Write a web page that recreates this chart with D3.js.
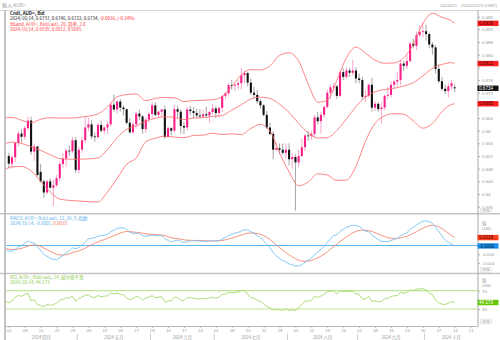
<!DOCTYPE html>
<html><head><meta charset="utf-8">
<script src="https://cdn.jsdelivr.net/npm/d3@7"></script>
<style>
html,body{margin:0;padding:0;background:#fff;}
svg{display:block;}
</style>
</head><body>
<svg id="chart" width="500" height="340"></svg>
<script>
// ---- AUD= daily candles, 2024-04-01 .. 2024-10-14 ----
const dates = [
"04-01","04-02","04-03","04-04","04-05","04-08","04-09","04-10","04-11","04-12",
"04-15","04-16","04-17","04-18","04-19","04-22","04-23","04-24","04-25","04-26",
"04-29","04-30","05-01","05-02","05-03","05-06","05-07","05-08","05-09","05-10",
"05-13","05-14","05-15","05-16","05-17","05-20","05-21","05-22","05-23","05-24",
"05-27","05-28","05-29","05-30","05-31","06-03","06-04","06-05","06-06","06-07",
"06-10","06-11","06-12","06-13","06-14","06-17","06-18","06-19","06-20","06-21",
"06-24","06-25","06-26","06-27","06-28","07-01","07-02","07-03","07-04","07-05",
"07-08","07-09","07-10","07-11","07-12","07-15","07-16","07-17","07-18","07-19",
"07-22","07-23","07-24","07-25","07-26","07-29","07-30","07-31","08-01","08-02",
"08-05","08-06","08-07","08-08","08-09","08-12","08-13","08-14","08-15","08-16",
"08-19","08-20","08-21","08-22","08-23","08-26","08-27","08-28","08-29","08-30",
"09-02","09-03","09-04","09-05","09-06","09-09","09-10","09-11","09-12","09-13",
"09-16","09-17","09-18","09-19","09-20","09-23","09-24","09-25","09-26","09-27",
"09-30","10-01","10-02","10-03","10-04","10-07","10-08","10-09","10-10","10-11",
"10-14"];
// weekdays shown on the time axis before the first candle and after the last one
const leadDays = ["03-29"];
const tailDays = ["10-15","10-16","10-17","10-18","10-21","10-22","10-23"];

const open = [
.6520,.6496,.6516,.6561,.6591,.6581,.6608,.6632,.6534,.6550,
.6470,.6440,.6405,.6440,.6420,.6428,.6450,.6495,.6512,.6537,
.6535,.6570,.6476,.6540,.6570,.6610,.6620,.6582,.6580,.6618,
.6600,.6610,.6620,.6682,.6667,.6692,.6673,.6668,.6625,.6595,
.6620,.6654,.6645,.6605,.6635,.6653,.6680,.6650,.6660,.6667,
.6580,.6608,.6600,.6668,.6660,.6615,.6610,.6667,.6662,.6656,
.6648,.6645,.6652,.6648,.6659,.6670,.6656,.6672,.6710,.6718,
.6744,.6742,.6745,.6750,.6775,.6782,.6752,.6720,.6713,.6693,
.6680,.6650,.6610,.6590,.6540,.6545,.6540,.6530,.6540,.6510,
.6517,.6500,.6520,.6548,.6585,.6583,.6590,.6642,.6630,.6650,
.6675,.6720,.6737,.6740,.6710,.6785,.6770,.6790,.6783,.6790,
.6765,.6760,.6707,.6710,.6745,.6673,.6685,.6668,.6673,.6710,
.6713,.6745,.6755,.6760,.6812,.6805,.6820,.6875,.6868,.6902,
.6912,.6914,.6905,.6872,.6863,.6795,.6756,.6732,.6725,.6740,
.6737];
const high = [
.6530,.6524,.6565,.6598,.6605,.6615,.6644,.6644,.6560,.6552,
.6495,.6445,.6444,.6449,.6446,.6460,.6503,.6529,.6543,.6553,
.6580,.6580,.6550,.6580,.6646,.6640,.6633,.6595,.6625,.6632,
.6615,.6630,.6690,.6714,.6697,.6700,.6680,.6670,.6640,.6628,
.6660,.6667,.6650,.6642,.6660,.6690,.6690,.6664,.6670,.6680,
.6615,.6612,.6680,.6680,.6668,.6628,.6675,.6678,.6675,.6670,
.6668,.6665,.6676,.6663,.6685,.6677,.6677,.6710,.6722,.6750,
.6761,.6750,.6760,.6799,.6790,.6785,.6765,.6738,.6728,.6700,
.6684,.6662,.6625,.6598,.6565,.6560,.6560,.6560,.6560,.6530,
.6525,.6540,.6575,.6590,.6600,.6600,.6650,.6660,.6660,.6680,
.6730,.6746,.6752,.6745,.6790,.6798,.6800,.6800,.6824,.6800,
.6780,.6770,.6728,.6750,.6767,.6695,.6690,.6690,.6715,.6738,
.6756,.6760,.6787,.6822,.6820,.6838,.6882,.6890,.6913,.6934,
.6942,.6935,.6910,.6880,.6870,.6810,.6770,.6745,.6750,.6760,
.6746];
const low = [
.6481,.6480,.6500,.6550,.6562,.6572,.6603,.6524,.6505,.6456,
.6436,.6388,.6400,.6418,.6362,.6422,.6440,.6483,.6486,.6520,
.6530,.6466,.6465,.6530,.6560,.6598,.6573,.6565,.6575,.6595,
.6590,.6590,.6614,.6660,.6655,.6660,.6648,.6620,.6590,.6590,
.6610,.6633,.6590,.6592,.6625,.6640,.6646,.6640,.6642,.6574,
.6577,.6585,.6595,.6640,.6590,.6590,.6600,.6650,.6640,.6640,
.6640,.6640,.6640,.6625,.6650,.6640,.6643,.6660,.6700,.6708,
.6730,.6725,.6730,.6730,.6750,.6740,.6713,.6703,.6685,.6670,
.6645,.6605,.6585,.6510,.6535,.6525,.6525,.6512,.6490,.6480,
.6348,.6485,.6517,.6535,.6568,.6570,.6580,.6620,.6590,.6640,
.6670,.6700,.6725,.6700,.6705,.6760,.6765,.6770,.6775,.6750,
.6750,.6698,.6690,.6705,.6660,.6662,.6660,.6622,.6665,.6700,
.6705,.6735,.6740,.6745,.6790,.6795,.6815,.6860,.6855,.6895,
.6895,.6885,.6860,.6840,.6780,.6750,.6725,.6716,.6705,.6730,
.6722];
const close = [
.6496,.6516,.6561,.6591,.6581,.6608,.6632,.6534,.6550,.6460,
.6440,.6405,.6440,.6420,.6428,.6450,.6495,.6512,.6537,.6535,
.6570,.6476,.6540,.6570,.6610,.6620,.6582,.6580,.6618,.6600,
.6610,.6620,.6682,.6667,.6692,.6673,.6668,.6625,.6595,.6620,
.6654,.6645,.6605,.6635,.6653,.6680,.6650,.6660,.6667,.6580,
.6608,.6600,.6668,.6660,.6615,.6610,.6667,.6662,.6656,.6648,
.6645,.6652,.6648,.6659,.6670,.6656,.6672,.6710,.6718,.6744,
.6742,.6745,.6750,.6775,.6782,.6752,.6720,.6713,.6693,.6680,
.6650,.6610,.6590,.6540,.6545,.6540,.6530,.6540,.6510,.6517,
.6500,.6520,.6548,.6585,.6583,.6590,.6642,.6630,.6650,.6675,
.6720,.6737,.6740,.6710,.6785,.6770,.6790,.6783,.6790,.6765,
.6760,.6707,.6710,.6745,.6673,.6685,.6668,.6673,.6710,.6713,
.6745,.6755,.6760,.6812,.6805,.6820,.6875,.6868,.6902,.6912,
.6914,.6905,.6872,.6863,.6795,.6756,.6732,.6725,.6740,.6750,
.6734];

// ---- Bollinger band (20, 2.0), sampled days ----
const bandDays = ["03-29","04-02","04-05","04-10","04-15","04-18","04-23","04-26","05-01","05-06",
"05-09","05-14","05-17","05-22","05-27","05-30","06-04","06-07","06-12","06-17",
"06-20","06-25","06-28","07-03","07-08","07-11","07-16","07-19","07-24","07-29",
"08-01","08-06","08-09","08-14","08-19","08-22","08-27","08-30","09-04","09-09",
"09-12","09-17","09-20","09-25","09-30","10-03","10-08","10-11","10-14"];
const bandUpper = [.6642,.6642,.6633,.6625,.6636,.6641,.6640,.6640,.6642,.6646,
.6653,.6675,.6707,.6714,.6716,.6695,.6702,.6705,.6704,.6692,
.6695,.6696,.6698,.6708,.6740,.6776,.6793,.6792,.6805,.6838,
.6846,.6820,.6748,.6690,.6696,.6759,.6830,.6864,.6845,.6823,
.6813,.6814,.6830,.6873,.6938,.6971,.6958,.6947,.6939];
const bandMiddle = [.6560,.6564,.6560,.6549,.6538,.6524,.6512,.6510,.6510,.6511,
.6514,.6541,.6578,.6604,.6615,.6630,.6639,.6644,.6642,.6635,
.6640,.6641,.6645,.6648,.6665,.6682,.6700,.6706,.6702,.6684,
.6658,.6623,.6593,.6577,.6578,.6601,.6637,.6676,.6706,.6723,
.6730,.6734,.6741,.6752,.6773,.6797,.6809,.6815,.6812];
const bandLower = [.6478,.6486,.6487,.6473,.6440,.6407,.6384,.6380,.6378,.6376,
.6375,.6407,.6449,.6494,.6514,.6565,.6576,.6583,.6580,.6578,
.6585,.6586,.6592,.6588,.6590,.6588,.6607,.6620,.6599,.6530,
.6470,.6426,.6438,.6464,.6460,.6443,.6444,.6488,.6567,.6623,
.6647,.6654,.6652,.6631,.6608,.6623,.6660,.6683,.6685];

// ---- MACD (12, 26, 9), from 03-29 to 10-14 ----
const macdLine = [
-0.00100,-0.00124,-0.00125,-0.00089,-0.00036,-0.00002,0.00046,0.00103,0.00068,0.00053,-0.00031,
-0.00113,-0.00204,-0.00245,-0.00290,-0.00316,-0.00315,-0.00274,-0.00226,-0.00166,-0.00118,
-0.00052,-0.00074,-0.00039,0.00012,0.00084,0.00147,0.00165,0.00176,0.00212,0.00224,
0.00238,0.00254,0.00314,0.00345,0.00386,0.00399,0.00400,0.00362,0.00304,0.00275,
0.00277,0.00267,0.00225,0.00213,0.00216,0.00237,0.00226,0.00224,0.00225,0.00154,
0.00119,0.00084,0.00110,0.00123,0.00095,0.00068,0.00092,0.00105,0.00110,0.00106,
0.00099,0.00099,0.00094,0.00098,0.00108,0.00104,0.00112,0.00148,0.00181,0.00225,
0.00256,0.00280,0.00299,0.00330,0.00356,0.00349,0.00314,0.00277,0.00229,0.00178,
0.00112,0.00027,-0.00055,-0.00159,-0.00234,-0.00294,-0.00346,-0.00375,-0.00417,-0.00440,
-0.00467,-0.00466,-0.00437,-0.00381,-0.00334,-0.00288,-0.00207,-0.00151,-0.00089,-0.00020,
0.00070,0.00153,0.00220,0.00245,0.00321,0.00366,0.00413,0.00439,0.00460,0.00451,
0.00435,0.00375,0.00326,0.00312,0.00240,0.00190,0.00135,0.00095,0.00092,0.00091,
0.00115,0.00140,0.00162,0.00219,0.00256,0.00293,0.00363,0.00408,0.00466,0.00514,
0.00547,0.00560,0.00537,0.00506,0.00422,0.00320,0.00218,0.00129,0.00070,0.00031,
-0.0001];
const signalLine = [
-0.00070,-0.00081,-0.00090,-0.00090,-0.00079,-0.00064,-0.00042,-0.00013,0.00003,0.00013,0.00004,
-0.00019,-0.00056,-0.00094,-0.00133,-0.00170,-0.00199,-0.00214,-0.00216,-0.00206,-0.00189,
-0.00161,-0.00144,-0.00123,-0.00096,-0.00060,-0.00019,0.00018,0.00050,0.00082,0.00110,
0.00136,0.00160,0.00191,0.00222,0.00255,0.00284,0.00307,0.00318,0.00315,0.00307,
0.00301,0.00294,0.00280,0.00267,0.00257,0.00253,0.00248,0.00243,0.00239,0.00222,
0.00202,0.00178,0.00164,0.00156,0.00144,0.00129,0.00121,0.00118,0.00116,0.00114,
0.00111,0.00109,0.00106,0.00104,0.00105,0.00105,0.00106,0.00114,0.00128,0.00147,
0.00169,0.00191,0.00213,0.00236,0.00260,0.00278,0.00285,0.00283,0.00273,0.00254,
0.00225,0.00186,0.00138,0.00078,0.00016,-0.00046,-0.00106,-0.00160,-0.00211,-0.00257,
-0.00299,-0.00332,-0.00353,-0.00359,-0.00354,-0.00341,-0.00314,-0.00281,-0.00243,-0.00198,
-0.00144,-0.00085,-0.00024,0.00030,0.00088,0.00144,0.00198,0.00246,0.00289,0.00321,
0.00344,0.00350,0.00345,0.00338,0.00319,0.00293,0.00261,0.00228,0.00201,0.00179,
0.00166,0.00161,0.00161,0.00173,0.00190,0.00210,0.00241,0.00274,0.00313,0.00353,
0.00392,0.00426,0.00448,0.00460,0.00452,0.00426,0.00384,0.00333,0.00280,0.00230,
0.0018];

// ---- RSI (14, Wilder), from 03-29 to 10-14 ----
const rsiLine = [
47.0,43.3,47.5,55.5,59.9,57.8,61.6,64.7,47.9,50.2,39.7,
37.8,34.7,40.0,38.1,39.4,42.8,49.1,51.3,54.4,54.1,
58.4,46.0,53.2,56.2,59.9,60.8,55.7,55.5,59.4,56.8,
57.9,59.0,65.1,62.7,65.0,61.8,61.0,54.2,50.0,53.2,
57.3,55.9,50.1,54.0,56.2,59.3,54.6,55.9,56.8,44.6,
48.4,47.4,55.8,54.7,48.9,48.2,55.2,54.5,53.6,52.4,
52.0,53.0,52.3,54.1,55.9,53.1,55.9,61.7,62.8,66.2,
65.7,66.1,66.9,70.3,71.2,62.5,54.8,53.3,49.0,46.5,
41.1,35.2,32.7,27.4,28.7,28.1,27.1,29.9,26.6,28.6,
26.7,32.4,39.5,47.3,47.0,48.4,57.7,55.2,58.4,62.1,
67.6,69.4,69.7,62.6,70.7,67.5,69.5,67.9,68.7,63.1,
62.0,51.8,52.2,57.5,46.2,48.0,45.6,46.5,52.4,52.8,
57.4,58.8,59.5,66.0,64.5,66.3,71.8,70.2,73.3,74.1,
74.3,71.9,63.9,61.9,49.2,43.7,40.7,39.8,42.6,46.0,
44.173];
const rsiBands = [70, 30];

// ---- axis labels ----
const priceTicks = [0.636,0.64,0.644,0.648,0.652,0.656,0.66,0.664,0.668,0.672,0.676,0.68,0.684,0.688,0.692,0.696];
const macdTicks = [-0.004,-0.002];
const rsiTicks = [70, 30];
const weekTicks = ["04-01","04-08","04-15","04-22","04-29","05-06","05-13","05-20","05-27","06-03",
"06-10","06-17","06-24","07-01","07-08","07-15","07-22","07-29","08-05","08-12",
"08-19","08-26","09-02","09-09","09-16","09-23","09-30","10-07","10-14","10-21"];
const monthNames = ["2024 四月","2024 五月","2024 六月","2024 七月","2024 八月","2024 九月","2024 十月"];
const monthFirstDays = ["04-01","05-01","06-03","07-01","08-01","09-02","10-01"];

// ---- layout ----
const svg = d3.select("#chart");
const LATIN = "'Liberation Sans', Arial, sans-serif";
const CJK = "'Noto Sans CJK SC', 'Liberation Sans', sans-serif";
const plotL = 5.5, plotR = 478;
const mainTop = 11, mainBot = 213, macdTop = 215, macdBot = 272.5, rsiTop = 274.5, rsiBot = 326;

const axisDays = [...leadDays, ...dates, ...tailDays];
const x = d3.scalePoint().domain(axisDays).range([5.6, 477]);
const yPrice = d3.scaleLinear().domain([0.636, 0.696]).range([206.7, 16.7]);
const yMacd = d3.scaleLinear().domain([0, 0.002]).range([245.5, 236.7]);
const yRsi = d3.scaleLinear().domain([30, 70]).range([309, 290.7]);

const UP = "#f7208a", DOWN = "#111", WICK_UP = "#f59cc4", WICK_DOWN = "#9a9a9a";
const BAND = "#ff6f6f", MACD_C = "#74c2f2", SIG_C = "#f4866f", RSI_C = "#a6d86a", RSI_BAND = "#bfe59a";

svg.append("rect").attr("width", 500).attr("height", 340).attr("fill", "#fff");

const defs = svg.append("defs");
[["clipMain", mainTop, mainBot], ["clipMacd", macdTop, macdBot], ["clipRsi", rsiTop, rsiBot]].forEach(([id, t, b]) => {
  defs.append("clipPath").attr("id", id).append("rect")
    .attr("x", plotL + 0.6).attr("y", t).attr("width", plotR - plotL - 0.6).attr("height", b - t);
});

// ---- frame ----
const frame = svg.append("g").attr("fill", "none");
frame.append("line").attr("x1", 0).attr("x2", 500).attr("y1", 10.5).attr("y2", 10.5).attr("stroke", "#d4d4d4");
[213.8, 273.5].forEach(y => frame.append("line").attr("x1", 0).attr("x2", 500).attr("y1", y).attr("y2", y)
  .attr("stroke", "#c4c4c4").attr("stroke-width", 1.6));
frame.append("line").attr("x1", plotL).attr("x2", plotR).attr("y1", rsiBot + 0.5).attr("y2", rsiBot + 0.5).attr("stroke", "#b8b8b8");
frame.append("line").attr("x1", plotL - 0.5).attr("x2", plotL - 0.5).attr("y1", 10.5).attr("y2", 340)
  .attr("stroke", "#b4b4b4").attr("stroke-width", 1.6);
frame.append("line").attr("x1", plotR).attr("x2", plotR).attr("y1", 10.5).attr("y2", rsiBot + 0.5).attr("stroke", "#a8a8a8");

// ---- title strip ----
svg.append("text").attr("x", 2).attr("y", 6.5).attr("font-family", CJK).attr("font-size", 5).attr("fill", "#9a9a9a")
  .text("輸入 AUD=");
svg.append("text").attr("x", 497).attr("y", 6.5).attr("text-anchor", "end").attr("font-family", LATIN)
  .attr("font-size", 4.4).attr("fill", "#a0a0a0").text("2024/4/1 - 2024/10/23 (GMT)");

// ---- candles ----
const candles = dates.map((d, i) => ({ d, o: open[i], h: high[i], l: low[i], c: close[i] }));
const gMain = svg.append("g").attr("clip-path", "url(#clipMain)");
gMain.selectAll("line.wick").data(candles).join("line").attr("class", "wick")
  .attr("x1", d => x(d.d)).attr("x2", d => x(d.d))
  .attr("y1", d => yPrice(d.h)).attr("y2", d => yPrice(d.l))
  .attr("stroke", d => d.c >= d.o ? WICK_UP : WICK_DOWN).attr("stroke-width", 0.9);
gMain.selectAll("rect.body").data(candles).join("rect").attr("class", "body")
  .attr("x", d => x(d.d) - 1.05).attr("width", 2.1)
  .attr("y", d => yPrice(Math.max(d.o, d.c)))
  .attr("height", d => Math.max(0.8, yPrice(Math.min(d.o, d.c)) - yPrice(Math.max(d.o, d.c))))
  .attr("fill", d => d.c >= d.o ? UP : DOWN);

// ---- Bollinger band ----
const bandLine = d3.line().x(d => x(d[0])).y(d => yPrice(d[1])).curve(d3.curveMonotoneX);
[bandUpper, bandMiddle, bandLower].forEach(vals => {
  gMain.append("path").datum(bandDays.map((d, i) => [d, vals[i]]))
    .attr("d", bandLine).attr("fill", "none").attr("stroke", BAND).attr("stroke-width", 0.85);
});

// ---- MACD ----
const indDays = [...leadDays, ...dates];
const gMacd = svg.append("g").attr("clip-path", "url(#clipMacd)");
gMacd.append("line").attr("x1", plotL).attr("x2", plotR).attr("y1", yMacd(0)).attr("y2", yMacd(0))
  .attr("stroke", "#5cb4ee").attr("stroke-width", 1);
const macdPath = d3.line().x(d => x(d[0])).y(d => yMacd(d[1])).curve(d3.curveMonotoneX);
gMacd.append("path").datum(indDays.map((d, i) => [d, signalLine[i]])).attr("d", macdPath)
  .attr("fill", "none").attr("stroke", SIG_C).attr("stroke-width", 0.9);
gMacd.append("path").datum(indDays.map((d, i) => [d, macdLine[i]])).attr("d", macdPath)
  .attr("fill", "none").attr("stroke", MACD_C).attr("stroke-width", 0.9);

// ---- RSI ----
const gRsi = svg.append("g").attr("clip-path", "url(#clipRsi)");
rsiBands.forEach(v => gRsi.append("line").attr("x1", plotL).attr("x2", plotR)
  .attr("y1", yRsi(v)).attr("y2", yRsi(v)).attr("stroke", RSI_BAND).attr("stroke-width", 1.2));
gRsi.append("path").datum(indDays.map((d, i) => [d, rsiLine[i]]))
  .attr("d", d3.line().x(d => x(d[0])).y(d => yRsi(d[1])))
  .attr("fill", "none").attr("stroke", RSI_C).attr("stroke-width", 0.9);

// ---- panel legends ----
function legend(y, parts) {
  const t = svg.append("text").attr("x", 10).attr("y", y).attr("font-family", CJK).attr("font-size", 4.5);
  parts.forEach(([s, c, w]) => t.append("tspan").attr("fill", c).attr("font-weight", w || 400).text(s));
}
const last = dates.length - 1;
const chg = Math.round((close[last] - close[last - 1]) * 10000) / 10000;
const chgPct = Math.round((close[last] / close[last - 1] - 1) * 10000) / 100;
legend(15.2, [["Cndl, AUD=, Bid", "#222", 700]]);
legend(20.2, [[`2024/10/14, ${open[last].toFixed(4)}, ${high[last].toFixed(4)}, ${low[last].toFixed(4)}, ${close[last].toFixed(4)}, `, "#222"],
              [`${chg.toFixed(4)}, (${chgPct.toFixed(2)}%)`, "#ff2b2b"]]);
legend(25.6, [["Bband, AUD=, Bid(Last), 20, 简单, 2.0", "#ff3b3b"]]);
legend(30.6, [[`2024/10/14, ${bandUpper[bandUpper.length - 1].toFixed(4)}, ${bandMiddle[bandMiddle.length - 1].toFixed(4)}, ${bandLower[bandLower.length - 1].toFixed(4)}`, "#ff3b3b"]]);
legend(220.4, [["MACD, AUD=, Bid(Last), 12, 26, 9, 指数", "#5cb0ea"]]);
legend(225.4, [["2024/10/14, ", "#5cb0ea"], [`${macdLine[macdLine.length - 1].toFixed(4)}, `, "#5cb0ea"], [`${signalLine[signalLine.length - 1].toFixed(4)}`, "#f4735a"]]);
legend(278.6, [["RSI, AUD=, Bid(Last), 14, 威尔德平滑", "#8ccc4a"]]);
legend(283.6, [[`2024/10/14, ${rsiLine[rsiLine.length - 1].toFixed(3)}`, "#8ccc4a"]]);

// ---- value tags on the right axis (drawn over the tick labels) ----
const bu = bandUpper[bandUpper.length - 1], bm = bandMiddle[bandMiddle.length - 1], bl = bandLower[bandLower.length - 1];
const tags = [
  [yPrice(bu), bu.toFixed(4), "#ff2020", "#3a0000"],
  [yPrice(bm), bm.toFixed(4), "#ff2020", "#3a0000"],
  [yPrice(close[last]), close[last].toFixed(4), "#111", "#fff"],
  [yPrice(bl), bl.toFixed(4), "#ff2020", "#3a0000"],
  [yMacd(signalLine[signalLine.length - 1]), signalLine[signalLine.length - 1].toFixed(4), "#ff3d1f", "#3a0000"],
  [yMacd(macdLine[macdLine.length - 1]), macdLine[macdLine.length - 1].toFixed(4), "#1a8ff0", "#001a33"],
  [yRsi(rsiLine[rsiLine.length - 1]), rsiLine[rsiLine.length - 1].toFixed(3), "#66c60a", "#fff"]
];
const tagYs = tags.map(t => t[0]);

// ---- right axes ----
function styleAxis(g) {
  g.select(".domain").remove();
  g.selectAll(".tick line").attr("stroke", "#b0b0b0");
  g.selectAll(".tick text").attr("fill", "#999").attr("font-family", LATIN).attr("font-size", 4.4);
  // a tick label sitting under a value tag stays hidden
  g.selectAll(".tick").each(function () {
    const ty = +d3.select(this).attr("transform").match(/,([-\d.]+)\)/)[1];
    if (tagYs.some(y => Math.abs(y - ty) < 4.6)) d3.select(this).select("text").remove();
  });
}
svg.append("g").attr("transform", `translate(${plotR},0)`)
  .call(d3.axisRight(yPrice).tickValues(priceTicks).tickSize(2).tickPadding(2).tickFormat(v => String(+v.toFixed(3))))
  .call(styleAxis);
svg.append("g").attr("transform", `translate(${plotR},0)`)
  .call(d3.axisRight(yMacd).tickValues(macdTicks).tickSize(2).tickPadding(2).tickFormat(v => v.toFixed(3)))
  .call(styleAxis);
svg.append("g").attr("transform", `translate(${plotR},0)`)
  .call(d3.axisRight(yRsi).tickValues(rsiTicks).tickSize(2).tickPadding(2).tickFormat(d3.format("d")))
  .call(styleAxis);

[[macdTop + 9.5], [rsiTop + 7.5]].forEach(([y]) => {
  svg.append("text").attr("x", 482).attr("y", y).attr("font-family", CJK).attr("font-size", 4.4).attr("fill", "#999").text("值");
  svg.append("text").attr("x", 482).attr("y", y + 5).attr("font-family", LATIN).attr("font-size", 4.4).attr("fill", "#999").text("USD");
});

// small scale buttons at the foot of each pane's value axis
[mainBot - 2.3, macdBot - 2.6, rsiBot - 4.5].forEach(y => {
  svg.append("rect").attr("x", 480.5).attr("y", y - 2.4).attr("width", 11).attr("height", 4.8)
    .attr("fill", "#f6f6f6").attr("stroke", "#d6d6d6").attr("stroke-width", 0.5);
  svg.append("text").attr("x", 486).attr("y", y + 1.4).attr("text-anchor", "middle").attr("font-family", CJK)
    .attr("font-size", 3.8).attr("fill", "#a8a8a8").text("价格");
});

tags.forEach(([y, text, bg, fg]) => {
  svg.append("rect").attr("x", 477.5).attr("y", y - 2.7).attr("width", 21).attr("height", 5.4).attr("fill", bg);
  svg.append("text").attr("x", 479).attr("y", y + 1.6).attr("font-family", LATIN).attr("font-size", 4.6)
    .attr("fill", fg).text(text);
});

// ---- time axis ----
const gx = svg.append("g").attr("transform", `translate(0,${rsiBot + 0.5})`)
  .call(d3.axisBottom(x).tickValues(weekTicks).tickSize(1.5).tickPadding(1).tickFormat(d => d.slice(3)));
gx.select(".domain").remove();
gx.selectAll(".tick line").attr("stroke", "#bbb");
gx.selectAll(".tick text").attr("fill", "#999").attr("font-family", LATIN).attr("font-size", 4.2);

const step = x.step();
const bounds = monthFirstDays.map((d, i) => i === 0 ? plotL : x(d) - step / 2);
bounds.push(plotR);
monthNames.forEach((m, i) => {
  svg.append("text").attr("x", (bounds[i] + bounds[i + 1]) / 2).attr("y", 338.5).attr("text-anchor", "middle")
    .attr("font-family", CJK).attr("font-size", 4.3).attr("fill", "#999").text(m);
  if (i > 0) svg.append("line").attr("x1", bounds[i]).attr("x2", bounds[i]).attr("y1", 333.5).attr("y2", 340)
    .attr("stroke", "#c0c0c0").attr("stroke-width", 0.8);
});
</script>
</body></html>
